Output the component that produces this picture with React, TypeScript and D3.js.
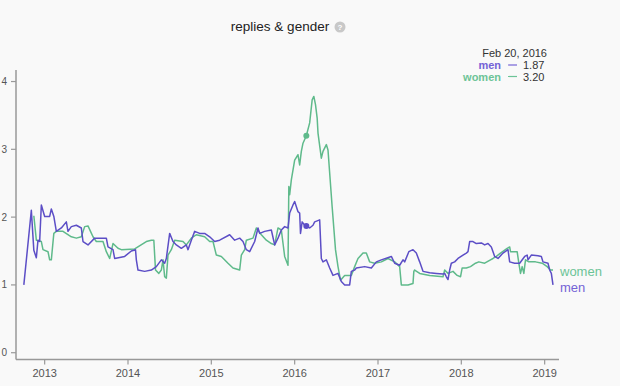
import React from "react";
import * as d3 from "d3";

const yearTicks = [2013, 2014, 2015, 2016, 2017, 2018, 2019];
const valueTicks = [0, 1, 2, 3, 4];

const menDates = [
  2012.75, 2012.84, 2012.87, 2012.9, 2012.92, 2012.94, 2012.96, 2013.0, 2013.06, 2013.08,
  2013.11, 2013.14, 2013.2, 2013.26, 2013.28, 2013.32, 2013.38, 2013.44, 2013.46, 2013.52,
  2013.6, 2013.66, 2013.74, 2013.76, 2013.82, 2013.84, 2013.96, 2014.04, 2014.09, 2014.1,
  2014.12, 2014.2, 2014.28, 2014.34, 2014.4, 2014.44, 2014.46, 2014.5, 2014.54, 2014.58,
  2014.64, 2014.7, 2014.72, 2014.76, 2014.8, 2014.86, 2014.92, 2014.98, 2015.04, 2015.1,
  2015.22, 2015.28, 2015.34, 2015.38, 2015.42, 2015.46, 2015.52, 2015.56, 2015.58, 2015.64,
  2015.72, 2015.76, 2015.8, 2015.84, 2015.88, 2015.92, 2015.94, 2015.98, 2016.0, 2016.04,
  2016.06, 2016.07, 2016.09, 2016.12, 2016.14, 2016.18, 2016.22, 2016.24, 2016.3, 2016.32,
  2016.34, 2016.38, 2016.42, 2016.46, 2016.52, 2016.56, 2016.6, 2016.66, 2016.68, 2016.72,
  2016.74, 2016.84, 2016.92, 2016.98, 2017.04, 2017.16, 2017.2, 2017.26, 2017.3, 2017.32,
  2017.37, 2017.42, 2017.46, 2017.5, 2017.54, 2017.62, 2017.7, 2017.78, 2017.8, 2017.82,
  2017.84, 2017.86, 2017.88, 2017.92, 2017.96, 2018.02, 2018.06, 2018.08, 2018.1, 2018.14,
  2018.18, 2018.24, 2018.28, 2018.32, 2018.36, 2018.4, 2018.44, 2018.5, 2018.56, 2018.58,
  2018.64, 2018.7, 2018.76, 2018.79, 2018.8, 2018.84, 2018.92, 2018.96, 2018.98, 2019.04,
  2019.06, 2019.08, 2019.1,
];
const menValues = [
  1.0, 2.1, 1.51, 1.4, 1.66, 1.64, 2.18, 2.01, 2.01, 2.12,
  2.01, 1.79, 1.84, 1.93, 1.79, 1.86, 1.88, 1.84, 1.64, 1.59,
  1.69, 1.69, 1.69, 1.56, 1.52, 1.39, 1.42, 1.5, 1.52, 1.37,
  1.22, 1.2, 1.22, 1.27, 1.37, 1.32, 1.39, 1.76, 1.64, 1.59,
  1.54, 1.59, 1.52, 1.66, 1.79, 1.76, 1.76, 1.71, 1.64, 1.66,
  1.74, 1.66, 1.69, 1.64, 1.52, 1.49, 1.64, 1.84, 1.76, 1.79,
  1.81, 1.59, 1.69, 1.81, 1.86, 1.84, 2.06, 2.18, 2.23, 2.08,
  2.06, 1.76, 1.93, 1.88, 1.87, 1.84, 1.88, 1.93, 1.96, 1.39,
  1.34, 1.37, 1.25, 1.14, 1.17, 1.05, 1.0, 1.0, 1.2, 1.22,
  1.25, 1.27, 1.25, 1.34, 1.37, 1.42, 1.32, 1.29, 1.37, 1.34,
  1.49, 1.52, 1.47, 1.34, 1.2, 1.18, 1.17, 1.16, 1.17, 1.12,
  1.08, 1.22, 1.32, 1.34, 1.39, 1.44, 1.47, 1.49, 1.64, 1.64,
  1.61, 1.62, 1.59, 1.61, 1.56, 1.42, 1.39, 1.47, 1.52, 1.34,
  1.32, 1.32, 1.42, 1.44, 1.37, 1.44, 1.43, 1.42, 1.34, 1.32,
  1.22, 1.17, 1.0,
];

const womenDates = [
  2012.87, 2012.9, 2012.96, 2012.98, 2013.04, 2013.06, 2013.08, 2013.11, 2013.14, 2013.22,
  2013.32, 2013.38, 2013.44, 2013.48, 2013.52, 2013.55, 2013.58, 2013.62, 2013.7, 2013.74,
  2013.78, 2013.82, 2013.88, 2013.92, 2014.08, 2014.22, 2014.28, 2014.31, 2014.33, 2014.37,
  2014.4, 2014.42, 2014.44, 2014.46, 2014.48, 2014.52, 2014.56, 2014.66, 2014.7, 2014.76,
  2014.82, 2014.92, 2014.98, 2015.02, 2015.06, 2015.12, 2015.2, 2015.26, 2015.34, 2015.36,
  2015.4, 2015.42, 2015.5, 2015.54, 2015.6, 2015.66, 2015.72, 2015.76, 2015.8, 2015.84,
  2015.88, 2015.92, 2015.93, 2015.94, 2015.96, 2016.0, 2016.04, 2016.06, 2016.08, 2016.1,
  2016.14, 2016.18, 2016.21, 2016.23, 2016.25, 2016.27, 2016.28, 2016.32, 2016.34, 2016.38,
  2016.4, 2016.45, 2016.49, 2016.52, 2016.55, 2016.6, 2016.68, 2016.72, 2016.76, 2016.82,
  2016.86, 2016.9, 2016.96, 2017.04, 2017.12, 2017.2, 2017.26, 2017.28, 2017.36, 2017.42,
  2017.43, 2017.44, 2017.5, 2017.62, 2017.78, 2017.8, 2017.84, 2017.9, 2017.95, 2017.99,
  2018.01, 2018.06, 2018.11, 2018.17, 2018.21, 2018.28, 2018.35, 2018.38, 2018.42, 2018.47,
  2018.55, 2018.58, 2018.59, 2018.67, 2018.69, 2018.71, 2018.73, 2018.75, 2018.77, 2018.81,
  2018.89, 2018.97, 2019.03, 2019.07, 2019.1,
];
const womenValues = [
  2.02, 1.66, 1.64, 1.52, 1.49, 1.37, 1.37, 1.76, 1.79, 1.79,
  1.71, 1.69, 1.71, 1.86, 1.87, 1.79, 1.71, 1.64, 1.64, 1.49,
  1.39, 1.61, 1.54, 1.52, 1.53, 1.64, 1.66, 1.66, 1.22, 1.17,
  1.22, 1.37, 1.12, 1.1, 1.44, 1.52, 1.66, 1.64, 1.59, 1.69,
  1.74, 1.71, 1.64, 1.64, 1.44, 1.42, 1.32, 1.25, 1.22, 1.44,
  1.52, 1.66, 1.69, 1.84, 1.74, 1.66, 1.61, 1.59, 1.84, 1.81,
  1.42, 1.29, 2.45, 2.33, 2.55, 2.84, 2.92, 2.77, 2.97, 3.09,
  3.2, 3.39, 3.73, 3.78, 3.66, 3.46, 3.24, 2.87, 2.97, 3.07,
  2.99, 2.15, 1.52, 1.27, 1.07, 1.14, 1.14, 1.27, 1.39, 1.47,
  1.47, 1.34, 1.32, 1.34, 1.39, 1.34, 1.27, 1.0, 1.0, 1.02,
  1.2, 1.22, 1.17, 1.14, 1.12, 1.22, 1.17, 1.2, 1.14, 1.12,
  1.25, 1.25, 1.27, 1.32, 1.34, 1.32, 1.37, 1.39, 1.42, 1.47,
  1.54, 1.56, 1.49, 1.49, 1.32, 1.17, 1.27, 1.17, 1.37, 1.34,
  1.34, 1.32, 1.27, 1.22, 1.22,
];

const hoverDate = 2016.14;
const hoverLabel = "Feb 20, 2016";
const hoverMen = 1.87;
const hoverWomen = 3.2;

const MEN = "#5c4ec6";
const WOMEN = "#5fba8b";
const MEN_TXT = "#7463d6";
const WOMEN_TXT = "#6cc497";
const FONT = "'Liberation Sans', Arial, Helvetica, sans-serif";

export default function App() {
  const W = 620;
  const H = 386;
  const x = d3.scaleLinear().domain([2012.656, 2019.172]).range([16, 559]);
  const y = d3.scaleLinear().domain([-0.1, 4.17]).range([359.5, 70]);

  const line = d3
    .line<[number, number]>()
    .x((d) => x(d[0]))
    .y((d) => y(d[1]));

  const men: [number, number][] = menDates.map((d, i) => [d, menValues[i]]);
  const women: [number, number][] = womenDates.map((d, i) => [d, womenValues[i]]);

  const menEnd = men[men.length - 1];
  const womenEnd = women[women.length - 1];
  const fmt = d3.format(".2f");

  return (
    <svg
      width={W}
      height={H}
      style={{ position: "absolute", left: 0, top: 0, fontFamily: FONT }}
    >
      <rect x={0} y={0} width={W} height={H} fill="#f9f9f9" />
      {/* title */}
      <text x={280} y={31} textAnchor="middle" fontSize={13.5} fill="#222">
        replies &amp; gender
      </text>
      <circle cx={340} cy={27} r={5.5} fill="#c8c8c8" />
      <text x={340} y={30} textAnchor="middle" fontSize={8} fontWeight="bold" fill="#fff">
        ?
      </text>

      {/* axes */}
      <g>
        <line x1={16} x2={559} y1={y(-0.1)} y2={y(-0.1)} stroke="#999" strokeWidth={1.5} />
        {yearTicks.map((t) => (
          <g key={t}>
            <line x1={x(t)} x2={x(t)} y1={y(-0.1)} y2={y(-0.1) + 5} stroke="#999" strokeWidth={1.2} />
            <text x={x(t)} y={y(-0.1) + 17} textAnchor="middle" fontSize={11} fill="#555">
              {d3.format("d")(t)}
            </text>
          </g>
        ))}
        <line x1={16} x2={16} y1={y(4.17)} y2={y(-0.1)} stroke="#999" strokeWidth={1.5} />
        {valueTicks.map((t) => (
          <g key={t}>
            <line x1={11} x2={16} y1={y(t)} y2={y(t)} stroke="#999" strokeWidth={1.2} />
            <text x={7} y={y(t) + 3.5} textAnchor="end" fontSize={10} fill="#555">
              {t}
            </text>
          </g>
        ))}
      </g>

      {/* lines */}
      <path d={line(women) || ""} fill="none" stroke={WOMEN} strokeWidth={1.5} strokeLinejoin="round" />
      <path d={line(men) || ""} fill="none" stroke={MEN} strokeWidth={1.5} strokeLinejoin="round" />

      {/* hover dots */}
      <circle cx={x(hoverDate)} cy={y(hoverWomen)} r={3} fill={WOMEN} />
      <circle cx={x(hoverDate)} cy={y(hoverMen)} r={3} fill={MEN} />

      {/* end labels */}
      <text x={x(womenEnd[0]) + 7} y={y(womenEnd[1]) + 6} fontSize={13} fill={WOMEN_TXT}>
        women
      </text>
      <text x={x(menEnd[0]) + 7} y={y(menEnd[1]) + 7} fontSize={13} fill={MEN_TXT}>
        men
      </text>

      {/* legend */}
      <text x={547} y={57} textAnchor="end" fontSize={11} fill="#333">
        {hoverLabel}
      </text>
      <text x={501} y={69} textAnchor="end" fontSize={11} fontWeight="bold" fill={MEN_TXT}>
        men
      </text>
      <line x1={508} x2={517} y1={65} y2={65} stroke={MEN_TXT} strokeWidth={1.2} />
      <text x={523} y={69} fontSize={11} fill="#333">
        {fmt(hoverMen)}
      </text>
      <text x={501} y={80.5} textAnchor="end" fontSize={11} fontWeight="bold" fill={WOMEN_TXT}>
        women
      </text>
      <line x1={508} x2={517} y1={76.5} y2={76.5} stroke={WOMEN_TXT} strokeWidth={1.2} />
      <text x={523} y={80.5} fontSize={11} fill="#333">
        {fmt(hoverWomen)}
      </text>
    </svg>
  );
}
